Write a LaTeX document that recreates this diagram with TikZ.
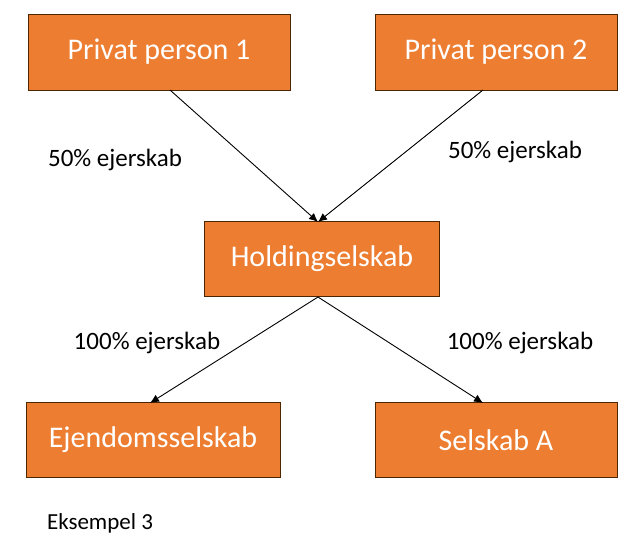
\documentclass[tikz,border=0pt]{standalone}
\usepackage{fontspec}
\setmainfont{Carlito}
\usetikzlibrary{arrows.meta}
\begin{document}
\begin{tikzpicture}[x=1pt,y=-1pt,
  box/.style={draw=black!70!orange,line width=1pt,fill={rgb,255:red,237;green,125;blue,49},text=white,font=\fontsize{30}{34}\selectfont},
  lbl/.style={font=\fontsize{25}{28}\selectfont},
  arr/.style={-{Latex[length=9pt,width=8pt]},line width=0.9pt}]
\useasboundingbox (0,0) rectangle (634,550);
\node[box,minimum width=262,minimum height=76] (p1) at (159,52) {Privat person 1};
\node[box,minimum width=242,minimum height=76] (p2) at (496,52) {Privat person 2};
\node[box,minimum width=235,minimum height=75] (h) at (322,259) {Holdingselskab};
\node[box,minimum width=254,minimum height=75] (e) at (153,440) {Ejendomsselskab};
\node[box,minimum width=242,minimum height=75] (s) at (496,440) {Selskab A};
\coordinate (p1b) at (170,90); \coordinate (p2b) at (483,90);
\coordinate (ht) at (318,222); \coordinate (hb) at (318,297);
\coordinate (et) at (150,403); \coordinate (st) at (483,403);
\draw[arr] (p1b) -- (ht);
\draw[arr] (p2b) -- (ht);
\draw[arr] (hb) -- (et);
\draw[arr] (hb) -- (st);
\node[lbl] (l1) at (115,160) {50\% ejerskab};
\node[lbl] (l2) at (515,152) {50\% ejerskab};
\node[lbl] (l3) at (147,343) {100\% ejerskab};
\node[lbl] (l4) at (520,343) {100\% ejerskab};
\node[font=\fontsize{23}{26}\selectfont] (ex) at (100,523) {Eksempel 3};
\end{tikzpicture}
\end{document}
